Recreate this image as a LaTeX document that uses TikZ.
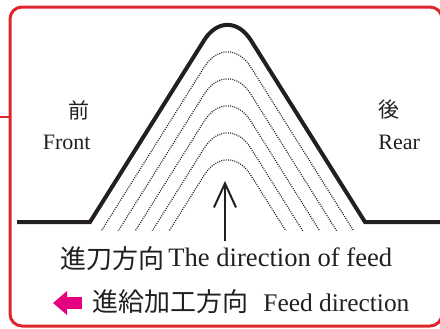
\documentclass[tikz,border=0pt]{standalone}
\usepackage{fontspec}
\setmainfont{Liberation Serif}
\newfontfamily\jpfont{Noto Sans CJK JP}
\usepackage{tikz}
\usetikzlibrary{arrows.meta}
\definecolor{framered}{RGB}{221,37,44}
\definecolor{feedpink}{RGB}{228,0,127}
\definecolor{ink}{RGB}{35,31,32}
\tikzset{
  profile/.style={line width=2pt, draw=ink, line join=miter},
  pass/.style={line width=0.6pt, draw=black!85, dash pattern=on 0.5pt off 0.6pt},
  ridge/.style={insert path={-- (204.1,40.3) .. controls (217,19.7) and (238,19.7) .. (250.9,40.3) -- (365,222)}},
  jp/.style={font=\jpfont\fontsize{13}{13}\selectfont, inner sep=0pt, text=ink},
  jpsmall/.style={font=\jpfont\fontsize{10.5}{11}\selectfont, inner sep=0pt, text=ink},
  en/.style={font=\fontsize{13.3}{14}\selectfont, inner sep=0pt, text=ink},
  ensmall/.style={font=\fontsize{11}{12}\selectfont, inner sep=0pt, text=ink},
}

\begin{document}
\begin{tikzpicture}[x=0.5pt,y=-0.5pt]
  \useasboundingbox (0,0) rectangle (440,328);
  \draw[framered, line width=1.5pt, rounded corners=6pt] (10,7) rectangle (442,326);
  \draw[framered, line width=1pt] (0,117) -- (10,117);

  \begin{scope}
    \clip (0,0) rectangle (440,230);
    \foreach \k in {1,...,5}
      \draw[pass, shift={(0,27*\k)}] (90,222) [ridge];
  \end{scope}
  \draw[profile] (17,222) -- (90,222) [ridge] -- (440,222);

  \coordinate (feed-foot) at (225,241);
  \coordinate (feed-tip) at (225,181);
  \draw[ink, line width=1pt, -{Straight Barb[length=12pt, width=11pt]}] (feed-foot) -- (feed-tip);

  \node[jpsmall, anchor=east] (front-jp) at (90,110) {前};
  \node[ensmall, anchor=base east] (front) at (91,149) {Front};
  \node[jpsmall, anchor=west] (rear-jp) at (378,110) {後};
  \node[ensmall, anchor=base west] (rear) at (378,149) {Rear};

  \node[jp, anchor=west] (feed-jp) at (60,259) {進刀方向};
  \node[en, anchor=base west] (feed-en) at (168,266) {The direction of feed};

  \coordinate (dir-tail) at (82,303);
  \coordinate (dir-tip) at (53,303);
  \draw[feedpink, line width=6pt, -{Triangle[length=7pt, width=11.5pt]}] (dir-tail) -- (dir-tip);
  \node[jp, anchor=west] (dir-jp) at (92,302) {進給加工方向};
  \node[en, font=\fontsize{12.7}{14}\selectfont, anchor=base west] (dir-en) at (263,311) {Feed direction};
\end{tikzpicture}
\end{document}
